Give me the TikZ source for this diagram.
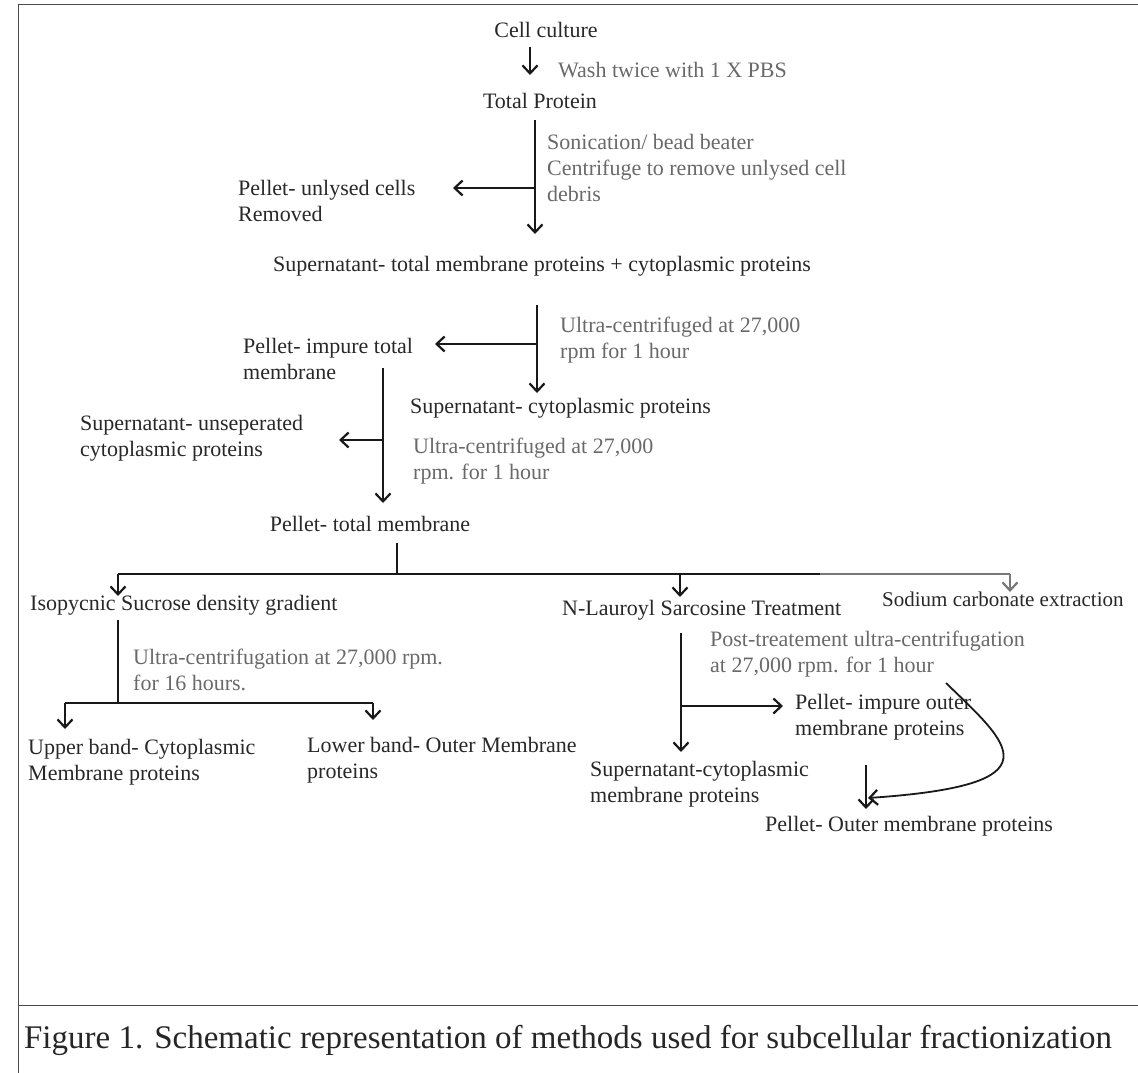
\documentclass[tikz,border=0pt]{standalone}
\usepackage{fontspec}
\setmainfont{Liberation Serif}
\usetikzlibrary{arrows.meta}
\definecolor{maintxt}{RGB}{40,40,40}
\definecolor{notetxt}{RGB}{105,105,105}
\definecolor{linecol}{RGB}{25,25,25}
\definecolor{greyline}{RGB}{120,120,120}
\tikzset{
  main/.style={inner sep=0pt, text=maintxt, font=\fontsize{22}{26}\selectfont, align=left},
  note/.style={inner sep=0pt, text=notetxt, font=\fontsize{22}{26}\selectfont, align=left},
  conn/.style={draw=linecol, line width=2.2pt},
  arr/.style={conn, -{Straight Barb[length=8pt,width=15pt,line width=2.2pt]}},
  garr/.style={draw=greyline, line width=2.2pt, -{Straight Barb[length=8pt,width=15pt,line width=2.2pt]}},
}
\begin{document}
\begin{tikzpicture}[x=1pt,y=-1pt]
\useasboundingbox (0,0) rectangle (1138,1073);
% frame
\draw[line width=1pt, draw=black!70] (1138,5) -- (18,5) -- (18,1073);
\draw[line width=1pt, draw=black!70] (18,1005) -- (1138,1005);

% nodes
\node[main] (cc) at (546,30) {Cell culture};
\node[main] (tp) at (540,101) {Total Protein};
\node[main, anchor=west] (pu) at (238,201) {Pellet- unlysed cells\\Removed};
\node[main] (stm) at (542,266) {Supernatant- total membrane proteins + cytoplasmic proteins};
\node[main, anchor=west] (pit) at (243,359) {Pellet- impure total\\membrane};
\node[main, anchor=west] (scp) at (410,408) {Supernatant- cytoplasmic proteins};
\node[main, anchor=west] (suc) at (80,438) {Supernatant- unseperated\\cytoplasmic proteins};
\node[main] (ptm) at (370,524) {Pellet- total membrane};
\node[main, anchor=west] (iso) at (30,605) {Isopycnic Sucrose density gradient};
\node[main, anchor=west] (nls) at (562,610) {N-Lauroyl Sarcosine Treatment};
\node[main, anchor=west, font=\fontsize{21}{26}\selectfont] (sce) at (882,599) {Sodium carbonate extraction};
\node[main, anchor=west] (ub) at (28,762) {Upper band- Cytoplasmic\\Membrane proteins};
\node[main, anchor=west] (lb) at (307,760) {Lower band- Outer Membrane\\proteins};
\node[main, anchor=west] (pio) at (795,717) {Pellet- impure outer\\membrane proteins};
\node[main, anchor=west] (scm) at (590,784) {Supernatant-cytoplasmic\\membrane proteins};
\node[main, anchor=west] (pom) at (765,826) {Pellet- Outer membrane proteins};

% notes
\node[note, anchor=west] (n1) at (558,70) {Wash twice with 1 X PBS};
\node[note, anchor=west] (n2) at (547,168) {Sonication/ bead beater\\Centrifuge to remove unlysed cell\\debris};
\node[note, anchor=west] (n3) at (560,340) {Ultra-centrifuged at 27,000\\rpm for 1 hour};
\node[note, anchor=west] (n4) at (413,461) {Ultra-centrifuged at 27,000\\rpm. for 1 hour};
\node[note, anchor=west] (n5) at (133,670) {Ultra-centrifugation at 27,000 rpm.\\for 16 hours.};
\node[note, anchor=west] (n6) at (710,654) {Post-treatement ultra-centrifugation\\at 27,000 rpm. for 1 hour};

% coordinates
\coordinate (a1s) at (530,47);
\coordinate (a1e) at (530,75);
\coordinate (v1s) at (535,120);
\coordinate (v1e) at (535,234);
\coordinate (b1) at (535,188);
\coordinate (b1e) at (453,188);
\coordinate (v2s) at (537,305);
\coordinate (v2e) at (537,393);
\coordinate (b2) at (537,344);
\coordinate (b2e) at (435,344);
\coordinate (v3s) at (383,368);
\coordinate (v3e) at (383,503);
\coordinate (b3) at (383,440);
\coordinate (b3e) at (339,440);
\coordinate (t1) at (397,543);
\coordinate (t2) at (397,574);
\coordinate (hL) at (118,574);
\coordinate (hM) at (680,574);
\coordinate (hG) at (820,574);
\coordinate (hR) at (1010,574);
\coordinate (d1) at (118,596);
\coordinate (d2) at (680,597);
\coordinate (d3) at (1010,592);
\coordinate (v4s) at (118,620);
\coordinate (v4e) at (118,703);
\coordinate (h4L) at (65,703);
\coordinate (h4R) at (373,703);
\coordinate (d4) at (65,729);
\coordinate (d5) at (373,720);
\coordinate (v5s) at (681,633);
\coordinate (v5e) at (681,752);
\coordinate (b5) at (681,706);
\coordinate (b5e) at (783,706);
\coordinate (v6s) at (866,765);
\coordinate (v6e) at (866,809);
\coordinate (cs) at (946,683);
\coordinate (ce) at (868,798);

% connectors
\draw[arr] (a1s) -- (a1e);
\draw[arr] (v1s) -- (v1e);
\draw[arr] (b1) -- (b1e);
\draw[arr] (v2s) -- (v2e);
\draw[arr] (b2) -- (b2e);
\draw[arr] (v3s) -- (v3e);
\draw[arr] (b3) -- (b3e);
\draw[conn] (t1) -- (t2);
\draw[conn] (hL) -- (hG);
\draw[draw=greyline, line width=2.2pt] (hG) -- (hR);
\draw[arr] (hL) -- (d1);
\draw[arr] (hM) -- (d2);
\draw[garr] (hR) -- (d3);
\draw[conn] (v4s) -- (v4e);
\draw[conn] (h4L) -- (h4R);
\draw[arr] (h4L) -- (d4);
\draw[arr] (h4R) -- (d5);
\draw[arr] (v5s) -- (v5e);
\draw[arr] (b5) -- (b5e);
\draw[arr] (v6s) -- (v6e);
\draw[arr, line width=1.8pt] (cs) .. controls (1010,745) and (1060,785) .. (ce);

% caption
\node[inner sep=0pt, text=black!85, font=\fontsize{33}{38}\selectfont] (cap) at (568,1040) {Figure 1. Schematic representation of methods used for subcellular fractionization};
\end{tikzpicture}
\end{document}
